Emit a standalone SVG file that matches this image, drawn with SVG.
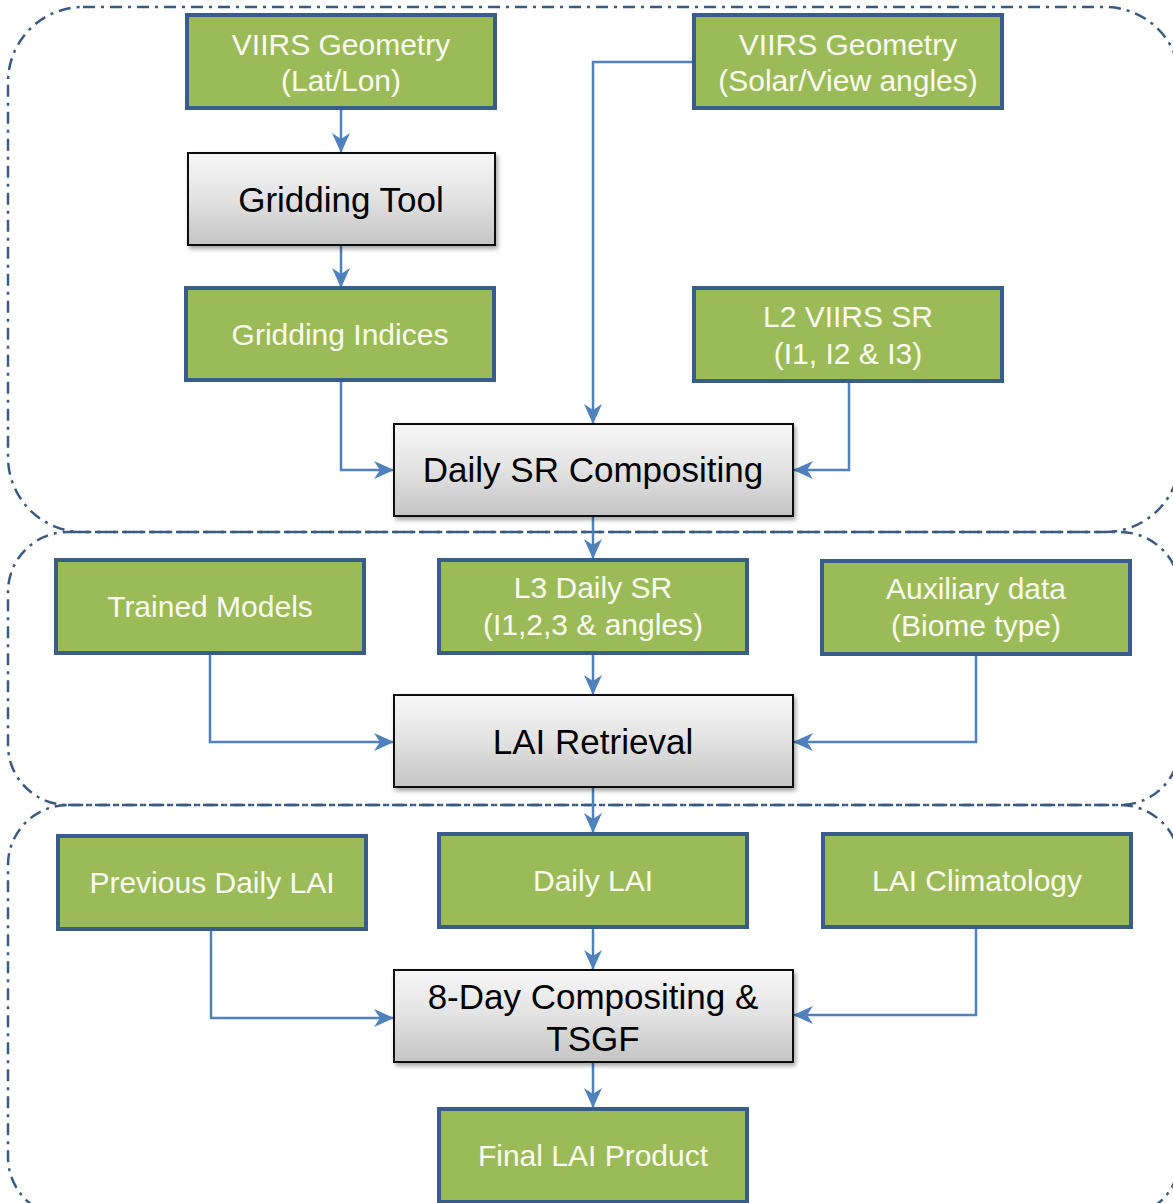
<svg xmlns="http://www.w3.org/2000/svg" width="1173" height="1203" viewBox="0 0 1173 1203">
<style>
.region{fill:none;stroke:#3b5a82;stroke-width:2.5;stroke-dasharray:12 6 3 6}
.g{fill:#9bbb59;stroke:#385d8a;stroke-width:4}
.p{fill:url(#gray);stroke:#111;stroke-width:2;filter:url(#sh)}
.gt{font-family:"Liberation Sans",Arial,sans-serif;font-size:30px;fill:#fbfbf0;text-anchor:middle}
.pt{font-family:"Liberation Sans",Arial,sans-serif;font-size:35px;fill:#000;text-anchor:middle}
.c{fill:none;stroke:#4f81bd;stroke-width:2.5;marker-end:url(#ah)}
</style>
<defs>
<linearGradient id="gray" x1="0" y1="0" x2="0" y2="1">
<stop offset="0" stop-color="#f7f7f7"/>
<stop offset="0.5" stop-color="#e2e2e2"/>
<stop offset="1" stop-color="#c4c4c4"/>
</linearGradient>
<filter id="sh" x="-10%" y="-10%" width="120%" height="130%">
<feDropShadow dx="2" dy="3" stdDeviation="2" flood-color="#000" flood-opacity="0.35"/>
</filter>
<marker id="ah" markerWidth="20" markerHeight="20" viewBox="0 0 20 20" refX="19" refY="10" orient="auto" markerUnits="userSpaceOnUse">
<path d="M0,1 L20,10 L0,19 L6,10 z" fill="#4f81bd"/>
</marker>
</defs>
<g id="regions">
<rect class="region" x="8" y="7" width="1172" height="525" rx="75" ry="75"/>
<rect class="region" x="8" y="532" width="1172" height="273" rx="60" ry="60"/>
<rect class="region" x="8" y="805" width="1172" height="412" rx="60" ry="60"/>
</g>
<g id="connectors">
<path class="c" d="M341,108 V152"/>
<path class="c" d="M341,245 V287"/>
<path class="c" d="M341,380 V470 H393"/>
<path class="c" d="M693,62 H593 V423"/>
<path class="c" d="M849,381 V470 H794"/>
<path class="c" d="M593,516 V558"/>
<path class="c" d="M593,653 V694"/>
<path class="c" d="M210,653 V742 H393"/>
<path class="c" d="M976,654 V742 H794"/>
<path class="c" d="M593,787 V832"/>
<path class="c" d="M593,927 V969"/>
<path class="c" d="M211,929 V1018 H393"/>
<path class="c" d="M976,927 V1015 H794"/>
<path class="c" d="M593,1062 V1107"/>
</g>
<g id="n-latlon"><rect class="g" x="187" y="15" width="308" height="93"/><text class="gt" x="341" y="55">VIIRS Geometry</text><text class="gt" x="341" y="91">(Lat/Lon)</text></g>
<g id="n-gridtool"><rect class="p" x="188" y="153" width="307" height="92"/><text class="pt" x="341" y="212">Gridding Tool</text></g>
<g id="n-gridind"><rect class="g" x="186" y="288" width="308" height="92"/><text class="gt" x="340" y="345">Gridding Indices</text></g>
<g id="n-solar"><rect class="g" x="694" y="15" width="308" height="93"/><text class="gt" x="848" y="55">VIIRS Geometry</text><text class="gt" x="848" y="91">(Solar/View angles)</text></g>
<g id="n-l2"><rect class="g" x="694" y="288" width="308" height="93"/><text class="gt" x="848" y="327">L2 VIIRS SR</text><text class="gt" x="848" y="364">(I1, I2 &amp; I3)</text></g>
<g id="n-dailysr"><rect class="p" x="394" y="424" width="399" height="92"/><text class="pt" x="593" y="482">Daily SR Compositing</text></g>
<g id="n-trained"><rect class="g" x="56" y="560" width="308" height="93"/><text class="gt" x="210" y="617">Trained Models</text></g>
<g id="n-l3"><rect class="g" x="439" y="560" width="308" height="93"/><text class="gt" x="593" y="598">L3 Daily SR</text><text class="gt" x="593" y="635">(I1,2,3 &amp; angles)</text></g>
<g id="n-aux"><rect class="g" x="822" y="561" width="308" height="93"/><text class="gt" x="976" y="599">Auxiliary data</text><text class="gt" x="976" y="636">(Biome type)</text></g>
<g id="n-lai"><rect class="p" x="394" y="695" width="399" height="92"/><text class="pt" x="593" y="754">LAI Retrieval</text></g>
<g id="n-prev"><rect class="g" x="58" y="836" width="308" height="93"/><text class="gt" x="212" y="893">Previous Daily LAI</text></g>
<g id="n-dailylai"><rect class="g" x="439" y="834" width="308" height="93"/><text class="gt" x="593" y="891">Daily LAI</text></g>
<g id="n-clim"><rect class="g" x="823" y="834" width="308" height="93"/><text class="gt" x="977" y="891">LAI Climatology</text></g>
<g id="n-8day"><rect class="p" x="394" y="970" width="399" height="92"/><text class="pt" x="593" y="1009">8-Day Compositing &amp;</text><text class="pt" x="593" y="1051">TSGF</text></g>
<g id="n-final"><rect class="g" x="439" y="1109" width="308" height="93"/><text class="gt" x="593" y="1166">Final LAI Product</text></g>
</svg>
